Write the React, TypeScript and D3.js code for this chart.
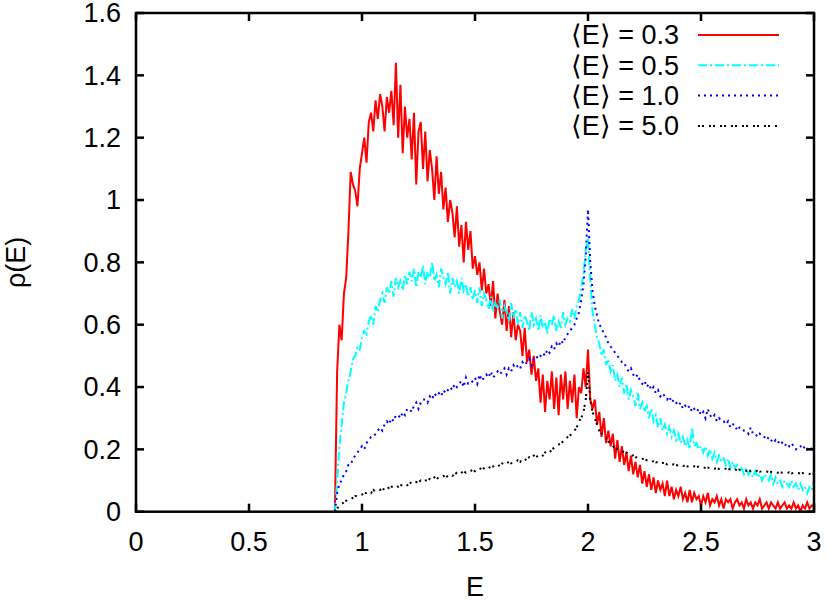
import React from "react";
import * as d3 from "d3";

// grid of the energy axis: first sample and spacing (all series share it)
const E_START = 0.88;
const E_STEP = 0.01;

// <E> = 0.3
const rho03 = [
  0, 0.45, 0.6, 0.55, 0.7, 0.75, 0.9, 1.09, 1.05, 1.03,
  0.98, 1.1, 1.15, 1.2, 1.12, 1.25, 1.28, 1.22, 1.32, 1.26,
  1.34, 1.3, 1.22, 1.33, 1.28, 1.35, 1.24, 1.44, 1.2, 1.37,
  1.15, 1.3, 1.2, 1.26, 1.13, 1.28, 1.05, 1.22, 1.25, 1.1,
  1.22, 1.06, 1.16, 1.1, 1.0, 1.14, 1.02, 1.09, 0.97, 1.04,
  0.93, 1.0, 0.96, 0.88, 0.98, 0.85, 0.92, 0.8, 0.93, 0.84,
  0.9, 0.78, 0.82, 0.76, 0.8, 0.71, 0.78, 0.7, 0.73, 0.66,
  0.74, 0.62, 0.7, 0.64, 0.6, 0.68, 0.58, 0.66, 0.56, 0.64,
  0.55, 0.6, 0.58, 0.5, 0.59, 0.48, 0.52, 0.44, 0.5, 0.42,
  0.46, 0.35, 0.44, 0.32, 0.42, 0.36, 0.45, 0.33, 0.43, 0.31,
  0.44, 0.36, 0.45, 0.33, 0.42, 0.35, 0.44, 0.3, 0.4, 0.38,
  0.46, 0.4, 0.52, 0.36, 0.33, 0.36, 0.28, 0.32, 0.24, 0.3,
  0.22, 0.26, 0.21, 0.25, 0.17, 0.23, 0.16, 0.21, 0.15, 0.19,
  0.13, 0.18, 0.12, 0.16, 0.11, 0.15, 0.09, 0.13, 0.08, 0.12,
  0.07, 0.11, 0.06, 0.1, 0.07, 0.09, 0.05, 0.1, 0.05, 0.08,
  0.04, 0.07, 0.05, 0.08, 0.04, 0.06, 0.03, 0.07, 0.03, 0.06,
  0.04, 0.05, 0.02, 0.05, 0.03, 0.06, 0.02, 0.04, 0.03, 0.05,
  0.02, 0.04, 0.01, 0.04, 0.03, 0.04, 0.01, 0.03, 0.04, 0.02,
  0.03, 0.01, 0.04, 0.02, 0.03, 0.01, 0.03, 0.02, 0.04, 0.01,
  0.02, 0.03, 0.01, 0.03, 0.02, 0.01, 0.03, 0.01, 0.02, 0.03,
  0.01, 0.02, 0.01, 0.03, 0.01, 0.02, 0.0, 0.02, 0.01, 0.03,
  0.01, 0.02, 0.02,
];

// <E> = 0.5
const rho05 = [
  0, 0.1, 0.21, 0.28, 0.35, 0.38, 0.42, 0.45, 0.49, 0.5,
  0.53, 0.52, 0.56, 0.58, 0.57, 0.61, 0.63, 0.6, 0.66, 0.64,
  0.68, 0.7, 0.67, 0.72, 0.7, 0.74, 0.69, 0.75, 0.72, 0.74,
  0.71, 0.76, 0.73, 0.77, 0.74, 0.78, 0.72, 0.77, 0.75, 0.79,
  0.73, 0.77, 0.75, 0.8, 0.74, 0.76, 0.72, 0.78, 0.75, 0.73,
  0.77, 0.7, 0.75, 0.72, 0.74, 0.7, 0.75, 0.71, 0.73, 0.69,
  0.72, 0.68, 0.71, 0.67, 0.72, 0.66, 0.7, 0.68, 0.65, 0.69,
  0.64, 0.67, 0.65, 0.68, 0.62, 0.66, 0.64, 0.61, 0.67, 0.62,
  0.65, 0.6, 0.64, 0.59, 0.63, 0.61, 0.58, 0.64, 0.6, 0.62,
  0.58, 0.63, 0.59, 0.61, 0.57, 0.62, 0.6, 0.63, 0.58, 0.61,
  0.59, 0.64, 0.6, 0.62, 0.61, 0.65, 0.62, 0.66, 0.68, 0.72,
  0.76, 0.84, 0.88, 0.74, 0.64, 0.6, 0.56, 0.54, 0.5, 0.52,
  0.47, 0.49, 0.45, 0.47, 0.42, 0.44, 0.4, 0.43, 0.38, 0.41,
  0.36, 0.39, 0.37, 0.34, 0.38, 0.33, 0.35, 0.32, 0.34, 0.3,
  0.33, 0.29, 0.31, 0.27, 0.3, 0.26, 0.28, 0.25, 0.27, 0.24,
  0.26, 0.23, 0.25, 0.22, 0.24, 0.21, 0.23, 0.2, 0.27, 0.21,
  0.22, 0.2, 0.21, 0.19, 0.21, 0.18, 0.2, 0.17, 0.19, 0.16,
  0.18, 0.16, 0.17, 0.15, 0.17, 0.14, 0.16, 0.14, 0.15, 0.13,
  0.14, 0.12, 0.14, 0.12, 0.13, 0.11, 0.13, 0.11, 0.12, 0.1,
  0.12, 0.11, 0.1, 0.12, 0.09, 0.11, 0.09, 0.1, 0.08, 0.1,
  0.09, 0.08, 0.1, 0.08, 0.09, 0.07, 0.09, 0.07, 0.08, 0.06,
  0.08, 0.07, 0.1,
];

// <E> = 1.0
const rho10 = [
  0, 0.06, 0.09, 0.1, 0.12, 0.13, 0.15, 0.15, 0.17, 0.18,
  0.19, 0.2, 0.21, 0.2, 0.22, 0.23, 0.24, 0.24, 0.25, 0.26,
  0.27, 0.26, 0.28, 0.29, 0.28, 0.3, 0.29, 0.31, 0.31, 0.3,
  0.32, 0.31, 0.33, 0.33, 0.32, 0.34, 0.35, 0.33, 0.35, 0.36,
  0.36, 0.35, 0.37, 0.36, 0.38, 0.37, 0.38, 0.37, 0.39, 0.38,
  0.39, 0.4, 0.39, 0.41, 0.4, 0.41, 0.42, 0.4, 0.43, 0.41,
  0.41, 0.42, 0.43, 0.41, 0.44, 0.42, 0.43, 0.44, 0.43, 0.45,
  0.43, 0.44, 0.45, 0.44, 0.45, 0.46, 0.44, 0.46, 0.45, 0.47,
  0.46, 0.47, 0.46, 0.48, 0.47, 0.48, 0.49, 0.47, 0.49, 0.5,
  0.49, 0.5, 0.51, 0.5, 0.52, 0.51, 0.53, 0.52, 0.54, 0.53,
  0.55, 0.54, 0.56, 0.57, 0.58, 0.59, 0.6, 0.62, 0.64, 0.68,
  0.73, 0.82, 0.97, 0.8, 0.71, 0.66, 0.63, 0.6, 0.59, 0.57,
  0.56, 0.54, 0.53, 0.52, 0.51, 0.5, 0.49, 0.48, 0.48, 0.46,
  0.45, 0.46, 0.44, 0.43, 0.44, 0.42, 0.41, 0.42, 0.4, 0.41,
  0.39, 0.4, 0.38, 0.39, 0.37, 0.38, 0.37, 0.36, 0.37, 0.35,
  0.36, 0.35, 0.34, 0.35, 0.33, 0.34, 0.33, 0.34, 0.32, 0.33,
  0.32, 0.33, 0.31, 0.32, 0.3, 0.33, 0.31, 0.3, 0.31, 0.29,
  0.3, 0.29, 0.29, 0.28, 0.29, 0.27, 0.28, 0.28, 0.26, 0.27,
  0.27, 0.26, 0.26, 0.25, 0.27, 0.25, 0.25, 0.24, 0.25, 0.24,
  0.24, 0.23, 0.24, 0.23, 0.22, 0.23, 0.22, 0.23, 0.22, 0.21,
  0.22, 0.21, 0.22, 0.21, 0.2, 0.21, 0.21, 0.2, 0.21, 0.2,
  0.21, 0.2, 0.2,
];

// <E> = 5.0
const rho50 = [
  0, 0.01, 0.02, 0.025, 0.03, 0.035, 0.04, 0.04, 0.045, 0.05,
  0.05, 0.055, 0.055, 0.06, 0.06, 0.065, 0.06, 0.07, 0.065, 0.07,
  0.07, 0.075, 0.07, 0.08, 0.075, 0.08, 0.08, 0.085, 0.08, 0.085,
  0.085, 0.09, 0.085, 0.09, 0.095, 0.09, 0.095, 0.095, 0.1, 0.095,
  0.1, 0.1, 0.105, 0.1, 0.11, 0.105, 0.11, 0.11, 0.115, 0.11,
  0.115, 0.12, 0.115, 0.12, 0.125, 0.12, 0.125, 0.13, 0.125, 0.13,
  0.13, 0.135, 0.13, 0.135, 0.14, 0.135, 0.14, 0.145, 0.14, 0.145,
  0.145, 0.15, 0.145, 0.15, 0.155, 0.15, 0.155, 0.16, 0.155, 0.16,
  0.16, 0.165, 0.16, 0.17, 0.165, 0.17, 0.175, 0.17, 0.18, 0.175,
  0.18, 0.185, 0.18, 0.19, 0.195, 0.19, 0.2, 0.205, 0.21, 0.215,
  0.22, 0.225, 0.23, 0.24, 0.245, 0.25, 0.26, 0.27, 0.29, 0.3,
  0.32, 0.36, 0.45, 0.36, 0.32, 0.3, 0.28, 0.26, 0.25, 0.24,
  0.235, 0.225, 0.22, 0.21, 0.205, 0.2, 0.2, 0.195, 0.19, 0.19,
  0.185, 0.18, 0.18, 0.175, 0.175, 0.17, 0.17, 0.168, 0.165, 0.165,
  0.16, 0.162, 0.158, 0.16, 0.155, 0.157, 0.155, 0.152, 0.154, 0.15,
  0.152, 0.15, 0.148, 0.15, 0.147, 0.148, 0.145, 0.147, 0.144, 0.146,
  0.143, 0.145, 0.142, 0.143, 0.14, 0.142, 0.139, 0.141, 0.138, 0.14,
  0.137, 0.138, 0.136, 0.138, 0.135, 0.137, 0.134, 0.136, 0.133, 0.135,
  0.132, 0.134, 0.131, 0.133, 0.13, 0.132, 0.129, 0.131, 0.128, 0.13,
  0.128, 0.129, 0.127, 0.128, 0.126, 0.128, 0.125, 0.127, 0.125, 0.126,
  0.124, 0.126, 0.123, 0.125, 0.123, 0.124, 0.122, 0.124, 0.122, 0.123,
  0.121, 0.123, 0.122,
];

const legendLabels = ["\u27E8E\u27E9 = 0.3", "\u27E8E\u27E9 = 0.5", "\u27E8E\u27E9 = 1.0", "\u27E8E\u27E9 = 5.0"];

const xTicks = [0, 0.5, 1, 1.5, 2, 2.5, 3];
const xTickLabels = ["0", "0.5", "1", "1.5", "2", "2.5", "3"];
const yTicks = [0, 0.2, 0.4, 0.6, 0.8, 1, 1.2, 1.4, 1.6];
const yTickLabels = ["0", "0.2", "0.4", "0.6", "0.8", "1", "1.2", "1.4", "1.6"];

const series = [
  { values: rho03, color: "#ff0000", dash: "none" },
  { values: rho05, color: "#00ffff", dash: "9,3,2,3" },
  { values: rho10, color: "#0000ff", dash: "2,4" },
  { values: rho50, color: "#000000", dash: "2,2,2,5" },
];

const W = 830;
const H = 600;
const left = 136, right = 814, top = 13, bottom = 511.7;
const font = "'Liberation Sans', Arial, Helvetica, sans-serif";
const fs = 27;

export default function App() {
  const x = d3.scaleLinear().domain([0, 3]).range([left, right]);
  const y = d3.scaleLinear().domain([0, 1.6]).range([bottom, top]);

  const lineGen = d3
    .line<number>()
    .x((_, i) => x(E_START + i * E_STEP))
    .y((d) => y(d));

  const tick = 8;

  return (
    <svg
      width={W}
      height={H}
      style={{ position: "absolute", left: 0, top: 0, background: "#fff" }}
      fontFamily={font}
    >
      <defs>
        <clipPath id="plotArea">
          <rect x={left} y={top} width={right - left} height={bottom - top} />
        </clipPath>
      </defs>

      {/* data */}
      <g clipPath="url(#plotArea)">
        {series.map((s, i) => (
          <path
            key={i}
            d={lineGen(s.values) || ""}
            fill="none"
            stroke={s.color}
            strokeWidth={2}
            strokeDasharray={s.dash}
            strokeLinejoin="miter"
          />
        ))}
      </g>

      {/* ticks */}
      {xTicks.map((t, i) => (
        <g key={"xt" + i}>
          <line x1={x(t)} x2={x(t)} y1={bottom} y2={bottom - tick} stroke="#000" strokeWidth={2.5} />
          <line x1={x(t)} x2={x(t)} y1={top} y2={top + tick} stroke="#000" strokeWidth={2.5} />
          <text x={x(t)} y={551} textAnchor="middle" fontSize={fs}>
            {xTickLabels[i]}
          </text>
        </g>
      ))}
      {yTicks.map((t, i) => (
        <g key={"yt" + i}>
          <line x1={left} x2={left + tick} y1={y(t)} y2={y(t)} stroke="#000" strokeWidth={2.5} />
          <line x1={right} x2={right - tick} y1={y(t)} y2={y(t)} stroke="#000" strokeWidth={2.5} />
          <text x={121} y={y(t)} dy="0.35em" textAnchor="end" fontSize={fs}>
            {yTickLabels[i]}
          </text>
        </g>
      ))}

      {/* frame */}
      <rect
        x={left}
        y={top}
        width={right - left}
        height={bottom - top}
        fill="none"
        stroke="#000"
        strokeWidth={2.5}
      />

      {/* axis titles */}
      <text x={(left + right) / 2} y={596} textAnchor="middle" fontSize={fs}>
        E
      </text>
      <text
        transform={`translate(25, ${(top + bottom) / 2}) rotate(-90)`}
        textAnchor="middle"
        fontSize={fs}
      >
        ρ(E)
      </text>

      {/* legend */}
      {series.map((s, i) => {
        const ry = 35 + i * 30.3;
        return (
          <g key={"lg" + i}>
            <text x={679} y={ry} dy="0.35em" textAnchor="end" fontSize={fs}>
              {legendLabels[i]}
            </text>
            <line
              x1={698}
              x2={779}
              y1={ry}
              y2={ry}
              stroke={s.color}
              strokeWidth={2}
              strokeDasharray={s.dash}
            />
          </g>
        );
      })}
    </svg>
  );
}
